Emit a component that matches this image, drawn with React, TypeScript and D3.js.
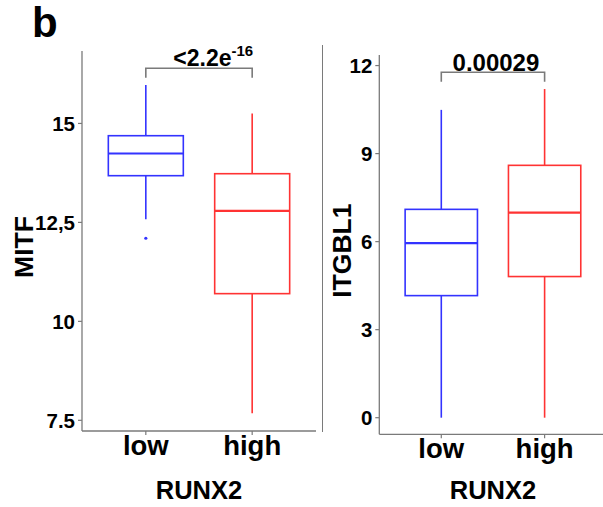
import React from "react";
import * as d3 from "d3";

const groups = ["low", "high"];
const xTitle = "RUNX2";

// MITF panel
const mitfLabel = "MITF";
const mitfTicks = [7.5, 10, 12.5, 15];
const mitfTickLabels = ["7.5", "10", "12,5", "15"];
const mitfWhiskerLow = [12.58, 7.68];
const mitfQ1 = [13.68, 10.7];
const mitfMedian = [14.24, 12.79];
const mitfQ3 = [14.69, 13.73];
const mitfWhiskerHigh = [15.97, 15.25];
const mitfOutliers = [[12.1], []];
const mitfP = "<2.2e";
const mitfPExp = "-16";

// ITGBL1 panel
const itgLabel = "ITGBL1";
const itgTicks = [0, 3, 6, 9, 12];
const itgTickLabels = ["0", "3", "6", "9", "12"];
const itgWhiskerLow = [0.0, 0.0];
const itgQ1 = [4.16, 4.81];
const itgMedian = [5.95, 6.99];
const itgQ3 = [7.1, 8.6];
const itgWhiskerHigh = [10.49, 11.2];
const itgOutliers = [[], []];
const itgP = "0.00029";

const colors = ["#3333ff", "#ff3333"];
const axisColor = "#7a7a7a";
const FONT = "'Liberation Sans', Arial, sans-serif";

type PanelProps = {
  x0: number;
  x1: number;
  yTop: number;
  yBottom: number;
  domain: [number, number];
  ticks: number[];
  tickLabels: string[];
  wl: number[];
  q1: number[];
  med: number[];
  q3: number[];
  wh: number[];
  outliers: number[][];
  boxFrac: number;
  label: string;
  labelX: number;
  bracketY: number;
  pText: React.ReactNode;
  pAnchor: "end" | "middle";
  pBaseline: number;
  pFont: number;
  xAxisEnd: number;
};

function Panel(p: PanelProps) {
  const y = d3.scaleLinear().domain(p.domain).range([p.yBottom, p.yTop]);
  const x = d3.scalePoint<string>().domain(groups).range([p.x0, p.x1]).padding(0.6);
  const step = x.step();
  const bw = step * p.boxFrac;
  const cx = groups.map((g) => x(g) as number);
  const bracketLeg = 9.4;
  const pX = p.pAnchor === "end" ? cx[1] + 1 : (cx[0] + cx[1]) / 2 + 3;
  return (
    <g>
      <line x1={p.x0} x2={p.x0} y1={p.yTop} y2={p.yBottom} stroke={axisColor} strokeWidth={1.3} />
      <line x1={p.x0} x2={p.xAxisEnd} y1={p.yBottom} y2={p.yBottom} stroke={axisColor} strokeWidth={1.3} />
      {p.ticks.map((t, i) => (
        <g key={t}>
          <line x1={p.x0 - 4} x2={p.x0} y1={y(t)} y2={y(t)} stroke={axisColor} strokeWidth={1.2} />
          <text x={p.x0 - 7} y={y(t)} dy="0.36em" textAnchor="end" fontSize={20.5} fontWeight="bold" fontFamily={FONT} fill="#000">
            {p.tickLabels[i]}
          </text>
        </g>
      ))}
      {groups.map((g, i) => (
        <g key={g}>
          <line x1={cx[i]} x2={cx[i]} y1={p.yBottom} y2={p.yBottom + 4} stroke={axisColor} strokeWidth={1.2} />
          <text x={cx[i]} y={p.yBottom + 24} textAnchor="middle" fontSize={27.5} fontWeight="bold" fontFamily={FONT} fill="#000">
            {g}
          </text>
        </g>
      ))}
      <text x={(p.x0 + p.x1) / 2} y={498.5} textAnchor="middle" fontSize={25.5} fontWeight="bold" fontFamily={FONT} fill="#000">
        {xTitle}
      </text>
      <text
        transform={`translate(${p.labelX},${(p.yTop + p.yBottom) / 2 + 6}) rotate(-90)`}
        textAnchor="middle"
        fontSize={26.5}
        fontWeight="bold"
        fontFamily={FONT}
        fill="#000"
      >
        {p.label}
      </text>
      {groups.map((g, i) => (
        <g key={g} stroke={colors[i]} strokeWidth={1.6} fill="none">
          <line x1={cx[i]} x2={cx[i]} y1={y(p.wh[i])} y2={y(p.q3[i])} />
          <line x1={cx[i]} x2={cx[i]} y1={y(p.q1[i])} y2={y(p.wl[i])} />
          <rect x={cx[i] - bw / 2} y={y(p.q3[i])} width={bw} height={y(p.q1[i]) - y(p.q3[i])} fill="#fff" />
          <line x1={cx[i] - bw / 2} x2={cx[i] + bw / 2} y1={y(p.med[i])} y2={y(p.med[i])} strokeWidth={2.2} />
          {p.outliers[i].map((o, j) => (
            <circle key={j} cx={cx[i]} cy={y(o)} r={1.6} fill={colors[i]} stroke="none" />
          ))}
        </g>
      ))}
      <path
        d={`M${cx[0]},${p.bracketY + bracketLeg} V${p.bracketY} H${cx[1]} V${p.bracketY + bracketLeg}`}
        fill="none"
        stroke={axisColor}
        strokeWidth={1.6}
      />
      <text x={pX} y={p.pBaseline} textAnchor={p.pAnchor} fontSize={p.pFont} fontWeight="bold" fontFamily={FONT} fill="#000">
        {p.pText}
      </text>
    </g>
  );
}

export default function App() {
  return (
    <svg width={603} height={507} style={{ position: "absolute", left: 0, top: 0, background: "#fff" }}>
      <rect width={603} height={507} fill="#fff" />
      <text x={32} y={37} fontSize={42} fontWeight="bold" fontFamily={FONT} fill="#000">
        b
      </text>
      <Panel
        x0={82}
        x1={316}
        yTop={51}
        yBottom={431}
        domain={[7.23, 16.83]}
        ticks={mitfTicks}
        tickLabels={mitfTickLabels}
        wl={mitfWhiskerLow}
        q1={mitfQ1}
        med={mitfMedian}
        q3={mitfQ3}
        wh={mitfWhiskerHigh}
        outliers={mitfOutliers}
        boxFrac={0.705}
        label={mitfLabel}
        labelX={33}
        bracketY={68.3}
        pText={
          <>
            {mitfP}
            <tspan fontSize={15} dy={-10}>
              {mitfPExp}
            </tspan>
          </>
        }
        pAnchor="end"
        pBaseline={65.5}
        pFont={23}
        xAxisEnd={316}
      />
      <line x1={322.5} x2={322.5} y1={45} y2={432} stroke={axisColor} strokeWidth={1} />
      <Panel
        x0={379.3}
        x1={606.6}
        yTop={55}
        yBottom={434.3}
        domain={[-0.566, 12.36]}
        ticks={itgTicks}
        tickLabels={itgTickLabels}
        wl={itgWhiskerLow}
        q1={itgQ1}
        med={itgMedian}
        q3={itgQ3}
        wh={itgWhiskerHigh}
        outliers={itgOutliers}
        boxFrac={0.7}
        label={itgLabel}
        labelX={351}
        bracketY={72.3}
        pText={itgP}
        pAnchor="middle"
        pBaseline={70.5}
        pFont={24}
        xAxisEnd={603}
      />
    </svg>
  );
}
